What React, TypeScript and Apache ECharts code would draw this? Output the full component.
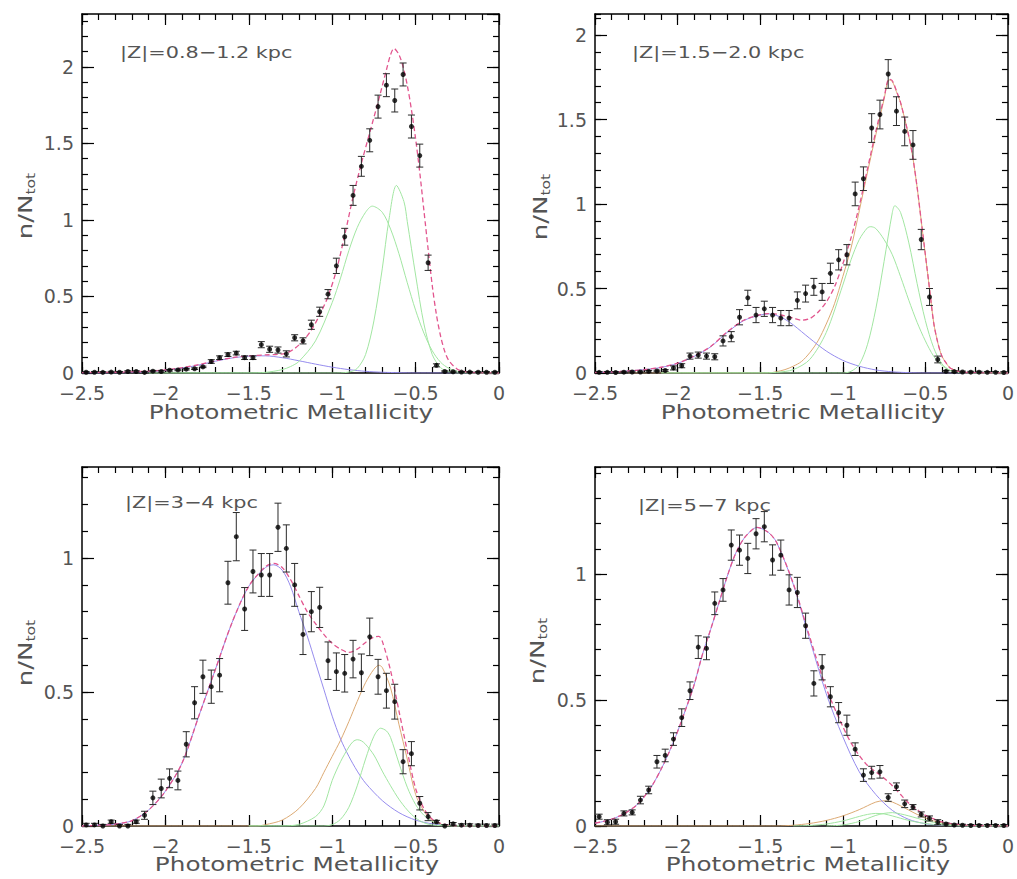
import React, { useEffect, useRef } from "react";
import * as echarts from "echarts";

// ---------------- data ----------------
const binCenters = [
  -2.475, -2.425, -2.375, -2.325, -2.275, -2.225, -2.175, -2.125, -2.075, -2.025,
  -1.975, -1.925, -1.875, -1.825, -1.775, -1.725, -1.675, -1.625, -1.575, -1.525,
  -1.475, -1.425, -1.375, -1.325, -1.275, -1.225, -1.175, -1.125, -1.075, -1.025,
  -0.975, -0.925, -0.875, -0.825, -0.775, -0.725, -0.675, -0.625, -0.575, -0.525,
  -0.475, -0.425, -0.375, -0.325, -0.275, -0.225, -0.175, -0.125, -0.075, -0.025,
];

const xTickLabels = ["−2.5", "−2", "−1.5", "−1", "−0.5", "0"];

const panelLabels = ["|Z|=0.8−1.2 kpc", "|Z|=1.5−2.0 kpc", "|Z|=3−4 kpc", "|Z|=5−7 kpc"];
const xAxisTitle = "Photometric Metallicity";
const yMaxes = [2.345, 2.125, 1.34, 1.425];

// panel 1: |Z| = 0.8-1.2 kpc
const p1Values = [
  0.005, 0.005, 0.004, 0.006, 0.005, 0.01, 0.01, 0.004, 0.012, 0.01,
  0.018, 0.02, 0.025, 0.028, 0.04, 0.075, 0.1, 0.12, 0.13, 0.1,
  0.1, 0.185, 0.155, 0.15, 0.125, 0.23, 0.21, 0.315, 0.4, 0.515,
  0.7, 0.89, 1.16, 1.35, 1.52, 1.74, 1.88, 1.78, 1.95, 1.61,
  1.42, 0.72, 0.05, 0.01, 0.008, 0.006, 0.006, 0.005, 0.005, 0.005,
];
const p1Errors = [
  0.005, 0.005, 0.005, 0.005, 0.005, 0.005, 0.005, 0.005, 0.005, 0.005,
  0.005, 0.005, 0.005, 0.005, 0.005, 0.012, 0.012, 0.012, 0.012, 0.012,
  0.012, 0.02, 0.02, 0.02, 0.02, 0.02, 0.02, 0.03, 0.03, 0.03,
  0.05, 0.055, 0.065, 0.065, 0.075, 0.075, 0.075, 0.075, 0.075, 0.075,
  0.075, 0.05, 0.01, 0.004, 0.004, 0.004, 0.004, 0.004, 0.004, 0.004,
];
const p1Total = [
  [-2.5, 0.003], [-2.3, 0.005], [-2.2, 0.008], [-2.1, 0.012], [-2.0, 0.02], [-1.9, 0.035],
  [-1.8, 0.055], [-1.7, 0.08], [-1.6, 0.1], [-1.5, 0.112], [-1.4, 0.118], [-1.325, 0.122],
  [-1.275, 0.13], [-1.225, 0.16], [-1.175, 0.21], [-1.125, 0.28], [-1.075, 0.38], [-1.025, 0.5],
  [-0.975, 0.67], [-0.925, 0.9], [-0.875, 1.15], [-0.825, 1.37], [-0.775, 1.57], [-0.725, 1.77],
  [-0.675, 1.98], [-0.65, 2.08], [-0.63, 2.12], [-0.6, 2.08], [-0.575, 2.0], [-0.55, 1.88],
  [-0.525, 1.72], [-0.5, 1.53], [-0.475, 1.31], [-0.45, 1.06], [-0.425, 0.81], [-0.4, 0.57],
  [-0.375, 0.38], [-0.35, 0.24], [-0.325, 0.14], [-0.3, 0.08], [-0.25, 0.025], [-0.2, 0.008],
  [-0.15, 0.002], [0, 0],
];
const p1Halo = [
  [-2.5, 0], [-2.3, 0.001], [-2.2, 0.003], [-2.1, 0.008], [-2.0, 0.018], [-1.9, 0.032],
  [-1.8, 0.052], [-1.7, 0.077], [-1.6, 0.098], [-1.5, 0.11], [-1.4, 0.112], [-1.3, 0.1],
  [-1.2, 0.08], [-1.1, 0.058], [-1.0, 0.038], [-0.9, 0.022], [-0.8, 0.011], [-0.7, 0.005],
  [-0.6, 0.002], [-0.5, 0], [0, 0],
];
const p1Disk: number[][] = [];
const p1DiskA = [
  [-2.1, 0], [-1.5, 0], [-1.4, 0.004], [-1.3, 0.022], [-1.25, 0.042], [-1.2, 0.075],
  [-1.1, 0.21], [-1.0, 0.46], [-0.95, 0.62], [-0.9, 0.8], [-0.85, 0.95], [-0.8, 1.05],
  [-0.76, 1.09], [-0.7, 1.05], [-0.65, 0.94], [-0.6, 0.78], [-0.55, 0.59], [-0.5, 0.41],
  [-0.45, 0.26], [-0.4, 0.145], [-0.35, 0.07], [-0.3, 0.03], [-0.25, 0.011], [-0.2, 0.003],
  [-0.1, 0], [0, 0],
];
const p1DiskB = [
  [-2.1, 0], [-1.0, 0], [-0.9, 0.006], [-0.85, 0.03], [-0.8, 0.12], [-0.75, 0.34],
  [-0.7, 0.68], [-0.66, 1.0], [-0.615, 1.225], [-0.57, 1.12], [-0.55, 0.99], [-0.5, 0.64],
  [-0.45, 0.32], [-0.4, 0.12], [-0.35, 0.035], [-0.3, 0.008], [-0.25, 0], [0, 0],
];

// panel 2: |Z| = 1.5-2.0 kpc
const p2Values = [
  0.004, 0.004, 0.003, 0.005, 0.006, 0.006, 0.01, 0.012, 0.015, 0.03,
  0.043, 0.1, 0.106, 0.1, 0.096, 0.19, 0.215, 0.33, 0.445, 0.343,
  0.38, 0.343, 0.325, 0.325, 0.43, 0.47, 0.51, 0.48, 0.59, 0.67,
  0.7, 1.06, 1.15, 1.45, 1.53, 1.77, 1.55, 1.43, 1.35, 0.79,
  0.45, 0.08, 0.01, 0.008, 0.006, 0.005, 0.005, 0.004, 0.004, 0.003,
];
const p2Errors = [
  0.005, 0.005, 0.005, 0.005, 0.005, 0.005, 0.005, 0.005, 0.005, 0.012,
  0.012, 0.018, 0.018, 0.018, 0.018, 0.03, 0.03, 0.045, 0.045, 0.045,
  0.045, 0.045, 0.045, 0.045, 0.05, 0.05, 0.05, 0.05, 0.06, 0.06,
  0.06, 0.07, 0.07, 0.085, 0.085, 0.085, 0.085, 0.085, 0.085, 0.06,
  0.05, 0.02, 0.005, 0.005, 0.005, 0.005, 0.005, 0.005, 0.005, 0.005,
];
const p2Total = [
  [-2.5, 0.003], [-2.4, 0.006], [-2.3, 0.012], [-2.2, 0.02], [-2.1, 0.034], [-2.0, 0.058],
  [-1.9, 0.1], [-1.8, 0.157], [-1.7, 0.243], [-1.6, 0.312], [-1.5, 0.345], [-1.45, 0.352],
  [-1.4, 0.348], [-1.35, 0.338], [-1.3, 0.325], [-1.25, 0.312], [-1.2, 0.322], [-1.15, 0.36],
  [-1.1, 0.42], [-1.05, 0.51], [-1.0, 0.645], [-0.95, 0.8], [-0.9, 0.99], [-0.85, 1.21],
  [-0.8, 1.43], [-0.75, 1.63], [-0.72, 1.74], [-0.7, 1.73], [-0.675, 1.67], [-0.65, 1.6],
  [-0.6, 1.4], [-0.575, 1.27], [-0.55, 1.1], [-0.525, 0.9], [-0.5, 0.7], [-0.475, 0.5],
  [-0.45, 0.3], [-0.425, 0.18], [-0.4, 0.1], [-0.375, 0.06], [-0.35, 0.03], [-0.3, 0.01],
  [-0.25, 0.003], [0, 0],
];
const p2Halo = [
  [-2.5, 0.003], [-2.4, 0.006], [-2.3, 0.012], [-2.2, 0.02], [-2.1, 0.033], [-2.0, 0.057],
  [-1.9, 0.098], [-1.8, 0.155], [-1.7, 0.24], [-1.6, 0.31], [-1.5, 0.343], [-1.45, 0.35],
  [-1.4, 0.34], [-1.35, 0.318], [-1.3, 0.285], [-1.2, 0.205], [-1.1, 0.13], [-1.0, 0.075],
  [-0.9, 0.04], [-0.8, 0.018], [-0.7, 0.007], [-0.6, 0.002], [-0.5, 0], [0, 0],
];
const p2Disk = [
  [-2.3, 0], [-1.45, 0], [-1.4, 0.008], [-1.35, 0.02], [-1.3, 0.04], [-1.25, 0.068],
  [-1.2, 0.12], [-1.15, 0.19], [-1.1, 0.29], [-1.05, 0.41], [-1.0, 0.57], [-0.95, 0.74],
  [-0.9, 0.96], [-0.85, 1.19], [-0.8, 1.41], [-0.75, 1.62], [-0.72, 1.735], [-0.7, 1.725],
  [-0.675, 1.665], [-0.65, 1.6], [-0.6, 1.4], [-0.575, 1.27], [-0.55, 1.1], [-0.525, 0.9],
  [-0.5, 0.7], [-0.475, 0.5], [-0.45, 0.3], [-0.425, 0.18], [-0.4, 0.1], [-0.375, 0.06],
  [-0.35, 0.03], [-0.3, 0.01], [-0.25, 0.003], [0, 0],
];
const p2DiskA = [
  [-2.1, 0], [-1.5, 0], [-1.4, 0.004], [-1.3, 0.02], [-1.2, 0.08], [-1.1, 0.24],
  [-1.0, 0.52], [-0.95, 0.67], [-0.9, 0.79], [-0.85, 0.86], [-0.83, 0.866], [-0.8, 0.855],
  [-0.75, 0.79], [-0.7, 0.7], [-0.65, 0.57], [-0.6, 0.43], [-0.55, 0.3], [-0.5, 0.19],
  [-0.45, 0.1], [-0.4, 0.045], [-0.35, 0.015], [-0.3, 0.005], [-0.2, 0], [0, 0],
];
const p2DiskB = [
  [-2.1, 0], [-1.0, 0], [-0.95, 0.01], [-0.9, 0.05], [-0.85, 0.17], [-0.8, 0.38],
  [-0.75, 0.66], [-0.7, 0.95], [-0.685, 0.99], [-0.65, 0.95], [-0.6, 0.77], [-0.55, 0.53],
  [-0.5, 0.31], [-0.45, 0.15], [-0.4, 0.055], [-0.35, 0.015], [-0.3, 0.003], [-0.25, 0], [0, 0],
];

// panel 3: |Z| = 3-4 kpc
const p3Values = [
  0.004, 0.004, 0.0, 0.016, 0.0, 0.0, 0.016, 0.04, 0.105, 0.14,
  0.178, 0.17, 0.305, 0.46, 0.557, 0.52, 0.563, 0.908, 1.08, 0.81,
  0.95, 0.937, 0.937, 1.115, 1.036, 0.9, 0.715, 0.8, 0.816, 0.617,
  0.576, 0.57, 0.623, 0.572, 0.706, 0.557, 0.505, 0.464, 0.24, 0.27,
  0.085, 0.035, 0.016, 0.0, 0.008, 0.003, 0.003, 0.002, 0.002, 0.002,
];
const p3Errors = [
  0.006, 0.006, 0.006, 0.006, 0.006, 0.006, 0.006, 0.015, 0.025, 0.035,
  0.035, 0.035, 0.047, 0.06, 0.062, 0.062, 0.062, 0.08, 0.09, 0.08,
  0.08, 0.08, 0.08, 0.09, 0.088, 0.08, 0.075, 0.075, 0.075, 0.07,
  0.07, 0.07, 0.07, 0.07, 0.07, 0.065, 0.065, 0.065, 0.045, 0.045,
  0.025, 0.015, 0.005, 0.005, 0.005, 0.005, 0.005, 0.005, 0.005, 0.005,
];
const p3Total = [
  [-2.5, 0], [-2.4, 0.003], [-2.3, 0.007], [-2.2, 0.02], [-2.1, 0.06], [-2.0, 0.13],
  [-1.9, 0.235], [-1.8, 0.41], [-1.7, 0.585], [-1.6, 0.76], [-1.5, 0.895], [-1.4, 0.968],
  [-1.35, 0.98], [-1.3, 0.965], [-1.25, 0.92], [-1.2, 0.86], [-1.15, 0.8], [-1.1, 0.755],
  [-1.05, 0.715], [-1.0, 0.682], [-0.95, 0.66], [-0.9, 0.648], [-0.85, 0.66], [-0.8, 0.685],
  [-0.75, 0.705], [-0.72, 0.708], [-0.7, 0.69], [-0.65, 0.58], [-0.6, 0.43], [-0.55, 0.28],
  [-0.5, 0.14], [-0.45, 0.065], [-0.4, 0.025], [-0.35, 0.01], [-0.3, 0.003], [-0.2, 0], [0, 0],
];
const p3Halo = [
  [-2.5, 0], [-2.4, 0.003], [-2.3, 0.007], [-2.2, 0.02], [-2.1, 0.06], [-2.0, 0.13],
  [-1.9, 0.235], [-1.8, 0.41], [-1.7, 0.585], [-1.6, 0.76], [-1.5, 0.895], [-1.4, 0.965],
  [-1.35, 0.975], [-1.3, 0.955], [-1.25, 0.895], [-1.2, 0.8], [-1.15, 0.71], [-1.1, 0.61],
  [-1.05, 0.51], [-1.0, 0.41], [-0.95, 0.325], [-0.9, 0.26], [-0.85, 0.205], [-0.8, 0.16],
  [-0.7, 0.095], [-0.6, 0.05], [-0.5, 0.022], [-0.4, 0.008], [-0.3, 0.002], [-0.2, 0], [0, 0],
];
const p3Disk = [
  [-2.5, 0], [-1.45, 0], [-1.4, 0.005], [-1.3, 0.022], [-1.2, 0.065], [-1.1, 0.14],
  [-1.05, 0.2], [-1.0, 0.26], [-0.95, 0.32], [-0.9, 0.39], [-0.85, 0.465], [-0.8, 0.535],
  [-0.75, 0.585], [-0.72, 0.6], [-0.7, 0.592], [-0.65, 0.515], [-0.6, 0.38], [-0.55, 0.25],
  [-0.5, 0.118], [-0.45, 0.055], [-0.4, 0.02], [-0.35, 0.007], [-0.3, 0.002], [-0.2, 0], [0, 0],
];
const p3DiskA = [
  [-1.5, 0], [-1.3, 0], [-1.2, 0.006], [-1.1, 0.035], [-1.05, 0.075], [-1.0, 0.17],
  [-0.95, 0.24], [-0.9, 0.295], [-0.875, 0.315], [-0.85, 0.322], [-0.825, 0.318], [-0.8, 0.305],
  [-0.75, 0.265], [-0.7, 0.205], [-0.65, 0.15], [-0.6, 0.1], [-0.55, 0.06], [-0.5, 0.03],
  [-0.45, 0.012], [-0.4, 0.004], [-0.3, 0], [0, 0],
];
const p3DiskB = [
  [-1.5, 0], [-1.05, 0], [-1.0, 0.005], [-0.95, 0.025], [-0.9, 0.07], [-0.85, 0.15],
  [-0.8, 0.25], [-0.75, 0.335], [-0.71, 0.365], [-0.675, 0.355], [-0.65, 0.33], [-0.6, 0.235],
  [-0.55, 0.145], [-0.5, 0.08], [-0.45, 0.04], [-0.4, 0.018], [-0.35, 0.006], [-0.3, 0.002],
  [-0.2, 0], [0, 0],
];

// panel 4: |Z| = 5-7 kpc
const p4Values = [
  0.037, 0.015, 0.017, 0.05, 0.054, 0.103, 0.143, 0.255, 0.28, 0.345,
  0.43, 0.537, 0.71, 0.705, 0.884, 0.937, 1.115, 1.095, 1.062, 1.16,
  1.188, 1.056, 1.075, 0.937, 0.927, 0.795, 0.566, 0.63, 0.513, 0.45,
  0.4, 0.305, 0.202, 0.212, 0.215, 0.113, 0.156, 0.088, 0.075, 0.046,
  0.03, 0.015, 0.008, 0.004, 0.003, 0.002, 0.002, 0.002, 0.002, 0.002,
];
const p4Errors = [
  0.01, 0.01, 0.01, 0.01, 0.01, 0.015, 0.015, 0.025, 0.025, 0.025,
  0.035, 0.035, 0.045, 0.045, 0.045, 0.045, 0.06, 0.06, 0.06, 0.06,
  0.06, 0.06, 0.06, 0.06, 0.06, 0.05, 0.05, 0.05, 0.04, 0.04,
  0.04, 0.025, 0.025, 0.025, 0.025, 0.015, 0.015, 0.015, 0.01, 0.01,
  0.01, 0.01, 0.004, 0.004, 0.004, 0.004, 0.004, 0.004, 0.004, 0.004,
];
const p4Halo = [
  [-2.5, 0.011], [-2.45, 0.018], [-2.4, 0.027], [-2.35, 0.04], [-2.3, 0.058], [-2.25, 0.082],
  [-2.2, 0.118], [-2.15, 0.165], [-2.1, 0.225], [-2.05, 0.295], [-2.0, 0.375], [-1.95, 0.465],
  [-1.9, 0.56], [-1.85, 0.68], [-1.8, 0.78], [-1.75, 0.885], [-1.7, 0.99], [-1.65, 1.08],
  [-1.6, 1.14], [-1.55, 1.175], [-1.52, 1.185], [-1.45, 1.165], [-1.4, 1.125], [-1.3, 0.96],
  [-1.2, 0.74], [-1.1, 0.525], [-1.0, 0.355], [-0.9, 0.215], [-0.8, 0.125], [-0.7, 0.062],
  [-0.6, 0.026], [-0.5, 0.009], [-0.4, 0.003], [-0.3, 0.001], [-0.2, 0], [0, 0],
];
const p4Total = [
  [-2.5, 0.011], [-2.45, 0.018], [-2.4, 0.027], [-2.35, 0.04], [-2.3, 0.058], [-2.25, 0.082],
  [-2.2, 0.118], [-2.15, 0.165], [-2.1, 0.225], [-2.05, 0.295], [-2.0, 0.375], [-1.95, 0.465],
  [-1.9, 0.56], [-1.85, 0.68], [-1.8, 0.78], [-1.75, 0.885], [-1.7, 0.99], [-1.65, 1.08],
  [-1.6, 1.14], [-1.55, 1.175], [-1.52, 1.185], [-1.45, 1.165], [-1.4, 1.125], [-1.3, 0.963],
  [-1.2, 0.75], [-1.1, 0.547], [-1.0, 0.395], [-0.95, 0.33], [-0.9, 0.28], [-0.85, 0.24],
  [-0.8, 0.215], [-0.75, 0.19], [-0.7, 0.16], [-0.65, 0.125], [-0.6, 0.09], [-0.55, 0.065],
  [-0.5, 0.042], [-0.45, 0.028], [-0.4, 0.016], [-0.3, 0.006], [-0.2, 0.002], [0, 0],
];
const p4Disk = [
  [-2.5, 0], [-1.4, 0], [-1.3, 0.003], [-1.2, 0.01], [-1.1, 0.022], [-1.0, 0.04],
  [-0.9, 0.065], [-0.8, 0.095], [-0.75, 0.1], [-0.7, 0.095], [-0.65, 0.08], [-0.6, 0.063],
  [-0.55, 0.046], [-0.5, 0.032], [-0.45, 0.02], [-0.4, 0.012], [-0.3, 0.004], [-0.2, 0.001], [0, 0],
];
const p4DiskA = [
  [-1.3, 0], [-1.2, 0.002], [-1.1, 0.008], [-1.0, 0.02], [-0.9, 0.038], [-0.85, 0.046],
  [-0.8, 0.05], [-0.75, 0.048], [-0.7, 0.04], [-0.6, 0.022], [-0.5, 0.01], [-0.4, 0.004],
  [-0.3, 0.001], [-0.2, 0], [0, 0],
];
const p4DiskB = [
  [-1.1, 0], [-1.0, 0.004], [-0.9, 0.018], [-0.8, 0.042], [-0.75, 0.05], [-0.7, 0.053],
  [-0.65, 0.048], [-0.6, 0.04], [-0.5, 0.022], [-0.4, 0.008], [-0.3, 0.002], [-0.2, 0], [0, 0],
];

// ---------------- layout (styles / positions) ----------------
const layouts = [
  { left: 82, top: 14, width: 417, height: 359, nameX: 291, nameY: 413, yNameX: 25, yNameY: 205, labelX: 120, labelY: 52 },
  { left: 595, top: 14, width: 416, height: 359, nameX: 803, nameY: 413, yNameX: 540, yNameY: 206, labelX: 632, labelY: 52 },
  { left: 82, top: 467, width: 417, height: 359, nameX: 297, nameY: 865, yNameX: 25, yNameY: 652, labelX: 125, labelY: 502 },
  { left: 595, top: 467, width: 416, height: 359, nameX: 808, nameY: 865, yNameX: 537, yNameY: 650, labelX: 638, labelY: 505 },
];

const COLORS = {
  total: "#e2558e",
  halo: "#968cee",
  disk: "#dcaa74",
  green: "#a2e6a2",
  point: "#000000",
  err: "#2a2a2a",
  text: "#555555",
};
const FONT = "DejaVu Sans";

function buildOption() {
  const panels = [
    { values: p1Values, errors: p1Errors, total: p1Total, halo: p1Halo, disk: p1Disk, diskA: p1DiskA, diskB: p1DiskB },
    { values: p2Values, errors: p2Errors, total: p2Total, halo: p2Halo, disk: p2Disk, diskA: p2DiskA, diskB: p2DiskB },
    { values: p3Values, errors: p3Errors, total: p3Total, halo: p3Halo, disk: p3Disk, diskA: p3DiskA, diskB: p3DiskB },
    { values: p4Values, errors: p4Errors, total: p4Total, halo: p4Halo, disk: p4Disk, diskA: p4DiskA, diskB: p4DiskB },
  ];

  const grid: any[] = [];
  const xAxis: any[] = [];
  const yAxis: any[] = [];
  const series: any[] = [];
  const graphic: any[] = [];

  const tickLine = { color: "#000", width: 1.2 };
  const frameLine = { color: "#000", width: 1.5 };
  const xFmt = (v: number) => {
    const idx = Math.round((v + 2.5) / 0.5);
    return xTickLabels[idx] ?? String(v);
  };

  panels.forEach((p, i) => {
    const L = layouts[i];
    grid.push({ left: L.left, top: L.top, width: L.width, height: L.height, containLabel: false });

    const xc = { type: "value", gridIndex: i, min: -2.5, max: 0, splitLine: { show: false } };
    xAxis.push(
      { ...xc, position: "bottom", interval: 0.5,
        axisLine: { show: true, onZero: false, lineStyle: frameLine },
        axisTick: { show: true, inside: true, length: 11, lineStyle: tickLine },
        axisLabel: { show: true, margin: 12, fontSize: 19, lineHeight: 16, fontFamily: FONT, color: COLORS.text, formatter: xFmt } },
      { ...xc, position: "bottom", interval: 0.1,
        axisLine: { show: false, onZero: false },
        axisTick: { show: true, inside: true, length: 6, lineStyle: tickLine },
        axisLabel: { show: false } },
      { ...xc, position: "top", interval: 0.5,
        axisLine: { show: true, onZero: false, lineStyle: frameLine },
        axisTick: { show: true, inside: true, length: 11, lineStyle: tickLine },
        axisLabel: { show: false } },
      { ...xc, position: "top", interval: 0.1,
        axisLine: { show: false, onZero: false },
        axisTick: { show: true, inside: true, length: 6, lineStyle: tickLine },
        axisLabel: { show: false } },
    );

    const yc = { type: "value", gridIndex: i, min: 0, max: yMaxes[i], splitLine: { show: false } };
    yAxis.push(
      { ...yc, position: "left", interval: 0.5,
        axisLine: { show: true, onZero: false, lineStyle: frameLine },
        axisTick: { show: true, inside: true, length: 12, lineStyle: tickLine },
        axisLabel: { show: true, margin: 8, fontSize: 19, lineHeight: 16, fontFamily: FONT, color: COLORS.text, showMaxLabel: false } },
      { ...yc, position: "left", interval: 0.1,
        axisLine: { show: false, onZero: false },
        axisTick: { show: true, inside: true, length: 6, lineStyle: tickLine },
        axisLabel: { show: false } },
      { ...yc, position: "right", interval: 0.5,
        axisLine: { show: true, onZero: false, lineStyle: frameLine },
        axisTick: { show: true, inside: true, length: 12, lineStyle: tickLine },
        axisLabel: { show: false } },
      { ...yc, position: "right", interval: 0.1,
        axisLine: { show: false, onZero: false },
        axisTick: { show: true, inside: true, length: 6, lineStyle: tickLine },
        axisLabel: { show: false } },
    );

    const xi = 4 * i;
    const yi = 4 * i;
    const lineSeries = (data: number[][], color: string, z: number, type: any = "solid", width = 1) => ({
      type: "line",
      xAxisIndex: xi,
      yAxisIndex: yi,
      data,
      showSymbol: false,
      symbol: "none",
      smooth: 0.3,
      lineStyle: { color, width, type },
      z,
      silent: true,
    });

    if (p.disk.length) series.push(lineSeries(p.disk, COLORS.disk, 2));
    series.push(lineSeries(p.halo, COLORS.halo, 2));
    series.push(lineSeries(p.diskA, COLORS.green, 3));
    series.push(lineSeries(p.diskB, COLORS.green, 3));
    series.push(lineSeries(p.total, COLORS.total, 4, [5, 3], 1.3));

    series.push({
      type: "custom",
      xAxisIndex: xi,
      yAxisIndex: yi,
      data: binCenters.map((x, k) => [x, p.values[k] - p.errors[k], p.values[k] + p.errors[k]]),
      encode: { x: 0, y: [1, 2] },
      clip: true,
      silent: true,
      z: 5,
      renderItem: (_params: any, api: any) => {
        const x = api.value(0);
        const lo = api.coord([x, api.value(1)]);
        const hi = api.coord([x, api.value(2)]);
        const w = 3.5;
        const st = { stroke: COLORS.err, lineWidth: 1 };
        return {
          type: "group",
          children: [
            { type: "line", shape: { x1: lo[0], y1: lo[1], x2: hi[0], y2: hi[1] }, style: st },
            { type: "line", shape: { x1: lo[0] - w, y1: lo[1], x2: lo[0] + w, y2: lo[1] }, style: st },
            { type: "line", shape: { x1: hi[0] - w, y1: hi[1], x2: hi[0] + w, y2: hi[1] }, style: st },
          ],
        };
      },
    });

    series.push({
      type: "scatter",
      xAxisIndex: xi,
      yAxisIndex: yi,
      data: binCenters.map((x, k) => [x, p.values[k]]),
      symbol: "circle",
      symbolSize: 5,
      itemStyle: { color: COLORS.point },
      z: 6,
      silent: true,
    });

    // texts
    graphic.push({
      type: "text",
      x: L.nameX,
      y: L.nameY,
      scaleX: 1.3,
      style: { text: xAxisTitle, fontSize: 19, fontFamily: FONT, fill: COLORS.text, textAlign: "center", textVerticalAlign: "middle" },
    });
    graphic.push({
      type: "text",
      x: L.labelX,
      y: L.labelY,
      scaleX: 1.3,
      style: { text: panelLabels[i], fontSize: 16, fontFamily: FONT, fill: COLORS.text, textAlign: "left", textVerticalAlign: "middle" },
    });
    graphic.push({
      type: "group",
      x: L.yNameX,
      y: L.yNameY,
      rotation: Math.PI / 2,
      scaleX: 1.3,
      children: [
        { type: "text", x: 8, y: 0, style: { text: "n/N", fontSize: 20, fontFamily: FONT, fill: COLORS.text, textAlign: "right", textVerticalAlign: "middle" } },
        { type: "text", x: 8, y: 6, style: { text: "tot", fontSize: 12, fontFamily: FONT, fill: COLORS.text, textAlign: "left", textVerticalAlign: "middle" } },
      ],
    });
  });

  return {
    animation: false,
    backgroundColor: "#ffffff",
    grid,
    xAxis,
    yAxis,
    series,
    graphic,
  };
}

export default function App() {
  const ref = useRef<HTMLDivElement>(null);
  useEffect(() => {
    if (!ref.current) return;
    const chart = echarts.init(ref.current, undefined, { renderer: "svg" });
    chart.setOption(buildOption() as any);
    return () => chart.dispose();
  }, []);
  return (
    <div
      ref={ref}
      style={{ position: "absolute", left: 0, top: 0, width: 1017, height: 879, background: "#fff" }}
    />
  );
}
